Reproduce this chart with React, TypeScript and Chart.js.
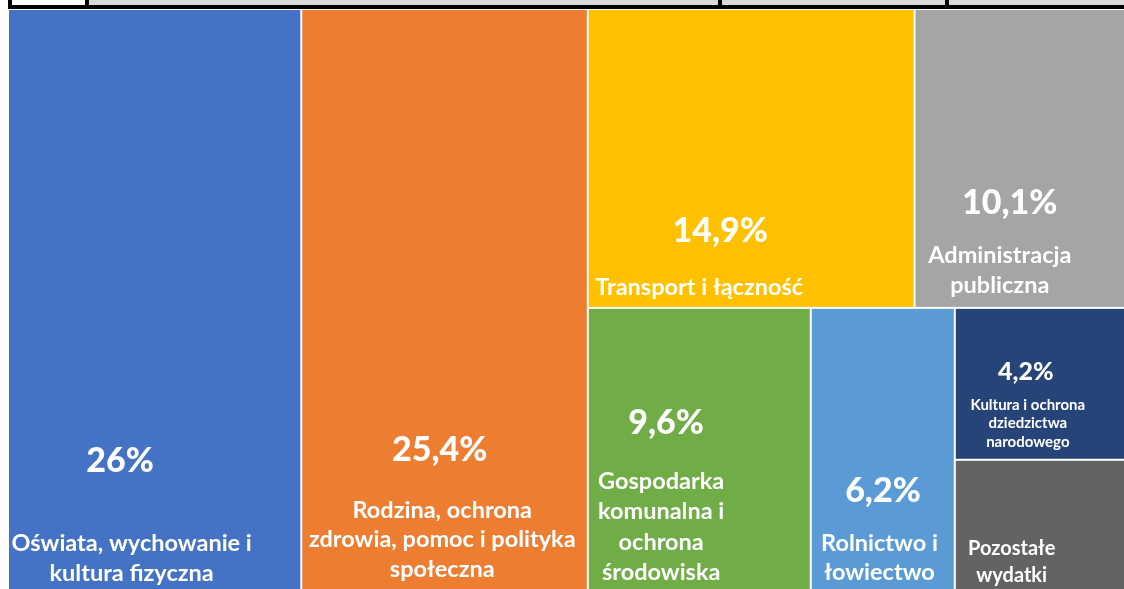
import React, { useEffect, useRef } from "react";
import { Chart, registerables } from "chart.js";

Chart.register(...registerables);

// ---- data ----
const categories = [
  "Oświata, wychowanie i kultura fizyczna",
  "Rodzina, ochrona zdrowia, pomoc i polityka społeczna",
  "Transport i łączność",
  "Administracja publiczna",
  "Gospodarka komunalna i ochrona środowiska",
  "Rolnictwo i łowiectwo",
  "Kultura i ochrona dziedzictwa narodowego",
  "Pozostałe wydatki",
];
const shares = [26, 25.4, 14.9, 10.1, 9.6, 6.2, 4.2, 3.6];
const labelLines = [
  ["Oświata, wychowanie i", "kultura fizyczna"],
  ["Rodzina, ochrona", "zdrowia, pomoc i polityka", "społeczna"],
  ["Transport i łączność"],
  ["Administracja", "publiczna"],
  ["Gospodarka", "komunalna i", "ochrona", "środowiska"],
  ["Rolnictwo i", "łowiectwo"],
  ["Kultura i ochrona", "dziedzictwa", "narodowego"],
  ["Pozostałe", "wydatki"],
];
const showShare = [true, true, true, true, true, true, true, false];

// ---- styles ----
const colors = ["#4472C4", "#ED7D31", "#FFC000", "#A5A5A5", "#70AD47", "#5B9BD5", "#264478", "#636363"];
// [centerX fraction, baseline fraction] inside each cell
const sharePos = [
  [0.382, 0.797], [0.483, 0.778], [0.405, 0.78], [0.43, 0.686],
  [0.351, 0.447], [0.501, 0.688], [0.392, 0.475], [0.5, 0.5],
];
const labelPos = [
  [0.4215, 0.933], [0.492, 0.876], [0.341, 0.957], [0.385, 0.85],
  [0.329, 0.642], [0.477, 0.862], [0.403, 0.672], [0.314, 0.731],
];
const shareFont = [34, 34, 34, 34, 34, 34, 25, 25];
const labelFont = [23.5, 23.5, 23.5, 23.5, 23.5, 23.5, 15, 20];
const lineGap = [29.5, 29.5, 29.5, 29.5, 30.5, 29, 18.5, 27];
const FONT = "Lato, 'Open Sans', sans-serif";
const CHART_W = 1128;
const CHART_H = 581;

type Rect = { x: number; y: number; w: number; h: number };

function worst(row: number[], s: number) {
  const sum = row.reduce((a, b) => a + b, 0);
  const mx = Math.max(...row);
  const mn = Math.min(...row);
  return Math.max((s * s * mx) / (sum * sum), (sum * sum) / (s * s * mn));
}

function squarify(vals: number[], x: number, y: number, w: number, h: number): Rect[] {
  const total = vals.reduce((a, b) => a + b, 0);
  const k = (w * h) / total;
  const areas = vals.map((v) => v * k);
  const out: Rect[] = [];
  let i = 0;
  while (i < areas.length) {
    const s = Math.min(w, h);
    let row = [areas[i]];
    let wPrev = worst(row, s);
    let j = i + 1;
    while (j < areas.length) {
      const cand = [...row, areas[j]];
      const wc = worst(cand, s);
      if (wc > wPrev * 0.99) break;
      row = cand;
      wPrev = wc;
      j++;
    }
    const rs = row.reduce((a, b) => a + b, 0);
    if (w >= h) {
      const cw = rs / h;
      let cy = y;
      row.forEach((a) => {
        const ch = a / cw;
        out.push({ x, y: cy, w: cw, h: ch });
        cy += ch;
      });
      x += cw;
      w -= cw;
    } else {
      const rh = rs / w;
      let cx = x;
      row.forEach((a) => {
        const rw = a / rh;
        out.push({ x: cx, y, w: rw, h: rh });
        cx += rw;
      });
      y += rh;
      h -= rh;
    }
    i = j;
  }
  return out;
}

function fmtShare(v: number) {
  return String(v).replace(".", ",") + "%";
}

const treemapPlugin = {
  id: "treemapCells",
  afterDatasetsDraw(chart: any) {
    const { ctx } = chart;
    const xs = chart.scales.x;
    const ys = chart.scales.y;
    const left = xs.getPixelForValue(0);
    const right = xs.getPixelForValue(100);
    const top = ys.getPixelForValue(100);
    const bottom = ys.getPixelForValue(0);
    const rects = squarify(shares, left, top, right - left, bottom - top);
    ctx.save();
    rects.forEach((r, i) => {
      const x0 = xs.getPixelForValue(xs.getValueForPixel(r.x));
      const x1 = xs.getPixelForValue(xs.getValueForPixel(r.x + r.w));
      const y0 = ys.getPixelForValue(ys.getValueForPixel(r.y));
      const y1 = ys.getPixelForValue(ys.getValueForPixel(r.y + r.h));
      ctx.fillStyle = colors[i];
      ctx.fillRect(x0 + 1, y0 + 1, x1 - x0 - 2, y1 - y0 - 2);
      const cw = x1 - x0;
      const ch = y1 - y0;
      ctx.fillStyle = "#FFFFFF";
      ctx.textAlign = "center";
      ctx.textBaseline = "alphabetic";
      if (showShare[i]) {
        ctx.font = `900 ${shareFont[i]}px ${FONT}`;
        ctx.fillText(fmtShare(shares[i]), x0 + cw * sharePos[i][0], y0 + ch * sharePos[i][1]);
      }
      ctx.font = `bold ${labelFont[i]}px ${FONT}`;
      labelLines[i].forEach((line, li) => {
        ctx.fillText(line, x0 + cw * labelPos[i][0], y0 + ch * labelPos[i][1] + li * lineGap[i]);
      });
    });
    ctx.restore();
  },
};

function TreemapChart() {
  const ref = useRef<HTMLCanvasElement | null>(null);
  useEffect(() => {
    if (!ref.current) return;
    const chart = new Chart(ref.current, {
      type: "scatter",
      data: {
        labels: categories,
        datasets: [{ label: "Udział w wydatkach", data: [], pointRadius: 0 }],
      },
      options: {
        responsive: false,
        animation: false,
        devicePixelRatio: 1,
        layout: { padding: 0 },
        scales: {
          x: { type: "linear", min: 0, max: 100, display: false },
          y: { type: "linear", min: 0, max: 100, display: false },
        },
        plugins: {
          legend: { display: false },
          tooltip: { enabled: false },
          title: { display: false },
        },
      },
      plugins: [treemapPlugin],
    } as any);
    return () => chart.destroy();
  }, []);
  return (
    <canvas
      ref={ref}
      width={CHART_W}
      height={CHART_H}
      style={{ position: "absolute", left: 8, top: 9, width: CHART_W, height: CHART_H }}
    />
  );
}

export default function App() {
  const box = (l: number, w: number, bg: string): React.CSSProperties => ({
    position: "absolute",
    left: l,
    top: 0,
    width: w,
    height: 5,
    background: bg,
  });
  return (
    <div style={{ position: "fixed", left: 0, top: 0, width: 1124, height: 589, overflow: "hidden", background: "#fff" }}>
      <div style={{ position: "absolute", left: 8, top: 0, width: 1130, height: 9, background: "#000" }} />
      <div style={box(12, 73, "#FFFFFF")} />
      <div style={box(89, 629, "#D9D9D9")} />
      <div style={box(722, 223, "#D9D9D9")} />
      <div style={box(949, 200, "#D9D9D9")} />
      <TreemapChart />
    </div>
  );
}
